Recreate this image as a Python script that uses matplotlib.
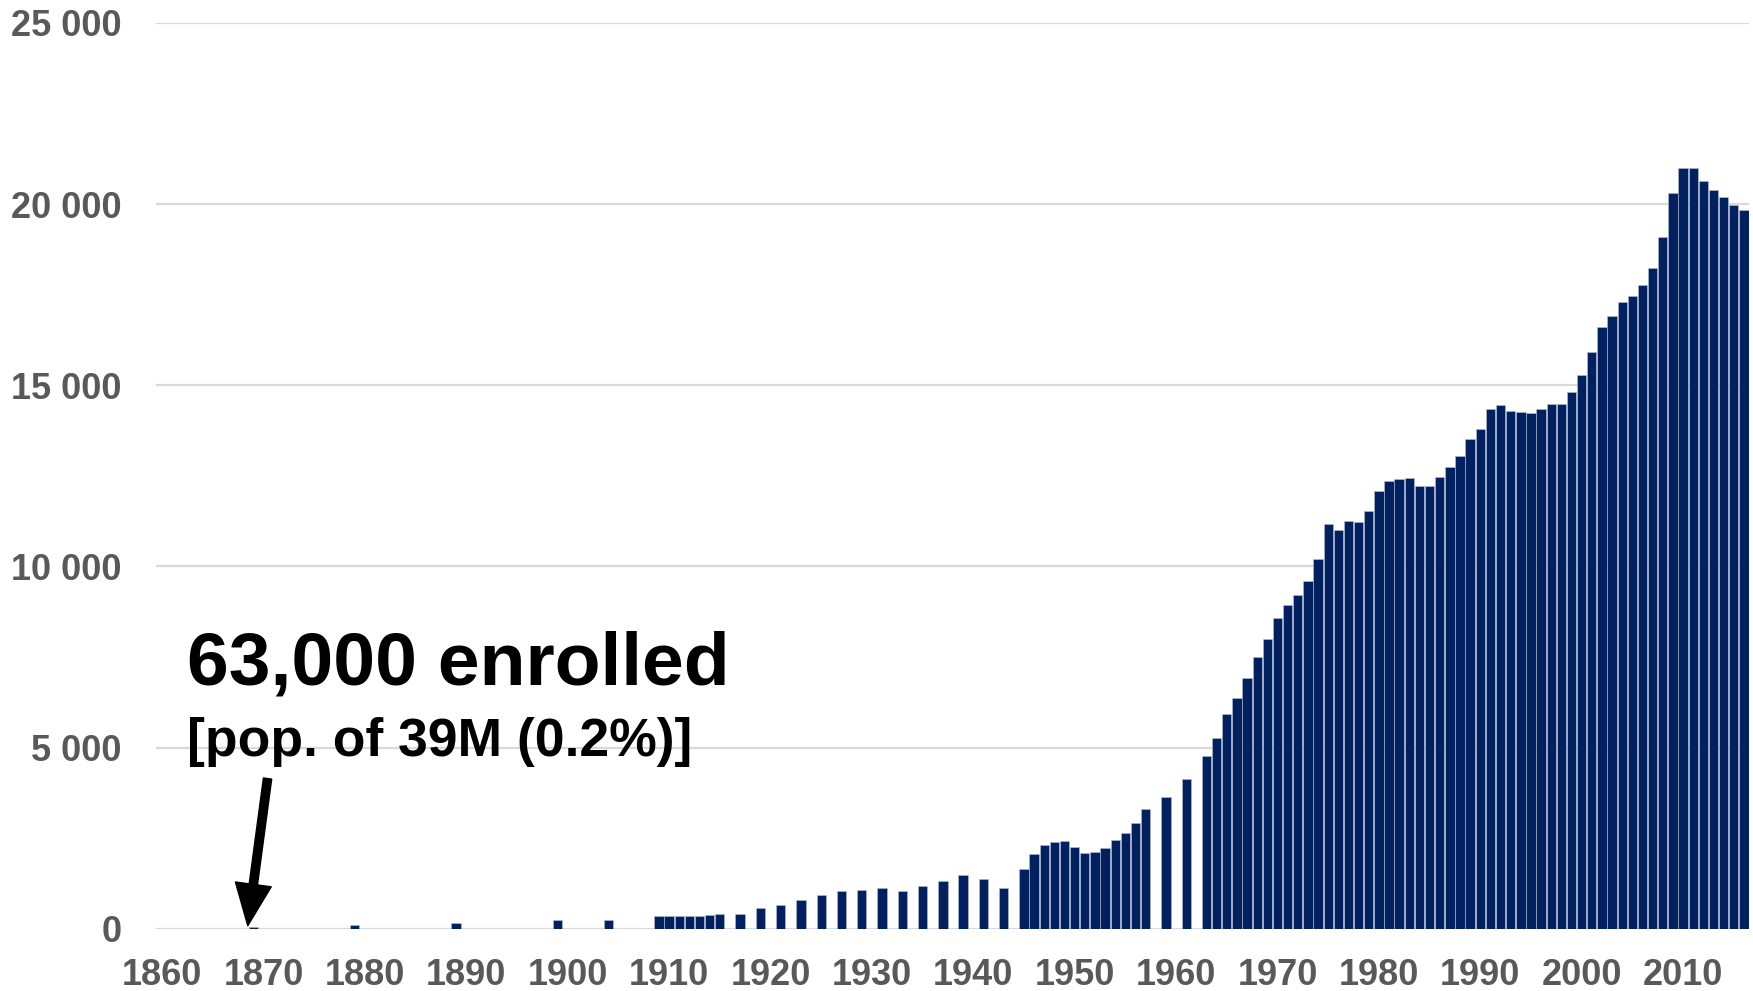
import matplotlib
matplotlib.use('Agg')
import matplotlib.pyplot as plt
from matplotlib.ticker import FuncFormatter

plt.rcParams['font.family'] = ['Liberation Sans', 'DejaVu Sans']

# fall enrollment, thousands
years = [1869, 1879, 1889, 1899, 1904,
         1909, 1910, 1911, 1912, 1913, 1914, 1915,
         1917, 1919, 1921, 1923, 1925, 1927, 1929, 1931, 1933, 1935, 1937, 1939, 1941, 1943,
         1945, 1946, 1947, 1948, 1949, 1950, 1951, 1952, 1953, 1954, 1955, 1956, 1957,
         1959, 1961,
         1963, 1964, 1965, 1966, 1967, 1968, 1969, 1970, 1971, 1972, 1973, 1974, 1975,
         1976, 1977, 1978, 1979, 1980, 1981, 1982, 1983, 1984, 1985, 1986, 1987, 1988,
         1989, 1990, 1991, 1992, 1993, 1994, 1995, 1996, 1997, 1998, 1999, 2000, 2001,
         2002, 2003, 2004, 2005, 2006, 2007, 2008, 2009, 2010, 2011, 2012, 2013, 2014,
         2015, 2016]
enrolled = [63, 116, 157, 238, 255,
            345, 345, 345, 345, 360, 385, 425,
            425, 580, 663, 810, 930, 1041, 1087, 1133, 1041, 1188, 1335, 1483, 1382, 1133,
            1658, 2068, 2321, 2395, 2431, 2275, 2095, 2122, 2220, 2441, 2643, 2910, 3316,
            3629, 4135,
            4771, 5277, 5922, 6383, 6917, 7515, 8003, 8584, 8943, 9210, 9590, 10215, 11175,
            11000, 11257, 11226, 11540, 12073, 12356, 12403, 12450, 12230, 12230, 12481, 12733, 13047,
            13518, 13800, 14334, 14460, 14287, 14256, 14240, 14350, 14475, 14475, 14821, 15292, 15920,
            16611, 16909, 17286, 17474, 17757, 18228, 19091, 20300, 20991, 20991, 20646, 20379, 20206,
            19970, 19829]

xticks = [1860, 1870, 1880, 1890, 1900, 1910, 1920, 1930, 1940, 1950, 1960, 1970, 1980, 1990, 2000, 2010]
yticks = [0, 5000, 10000, 15000, 20000, 25000]

fig = plt.figure(figsize=(17.53, 9.91), dpi=100)
ax = fig.add_axes([0.089, 0.0626, 0.909, 0.9144])

ax.bar(years, enrolled, width=0.92, color='#002060', edgecolor='#b8c0d4', linewidth=0.4, zorder=2)

ax.set_xlim(1859.4, 2016.55)
ax.set_ylim(0, 25000)
ax.set_xticks(xticks)
ax.set_yticks(yticks)
ax.yaxis.set_major_formatter(FuncFormatter(lambda v, p: '{:,}'.format(int(v)).replace(',', ' ')))
ax.grid(axis='y', color='#d9d9d9', linewidth=1.6, zorder=0)
ax.tick_params(length=0, labelsize=26, labelcolor='#595959')
ax.tick_params(axis='x', pad=21)
ax.tick_params(axis='y', pad=25)
for lab in ax.get_xticklabels() + ax.get_yticklabels():
    lab.set_fontweight('bold')
for s in ax.spines.values():
    s.set_visible(False)

ax.text(1862.5, 6757, '63,000 enrolled', fontsize=54, fontweight='bold', color='black')
ax.text(1862.5, 4771, '[pop. of 39M (0.2%)]', fontsize=38.5, fontweight='bold', color='black')
ax.annotate('', xy=(1868.45, 90), xytext=(1870.4, 4150),
            arrowprops=dict(facecolor='black', edgecolor='black', width=6, headwidth=26, headlength=30))

fig.savefig('out.png', dpi=100)
